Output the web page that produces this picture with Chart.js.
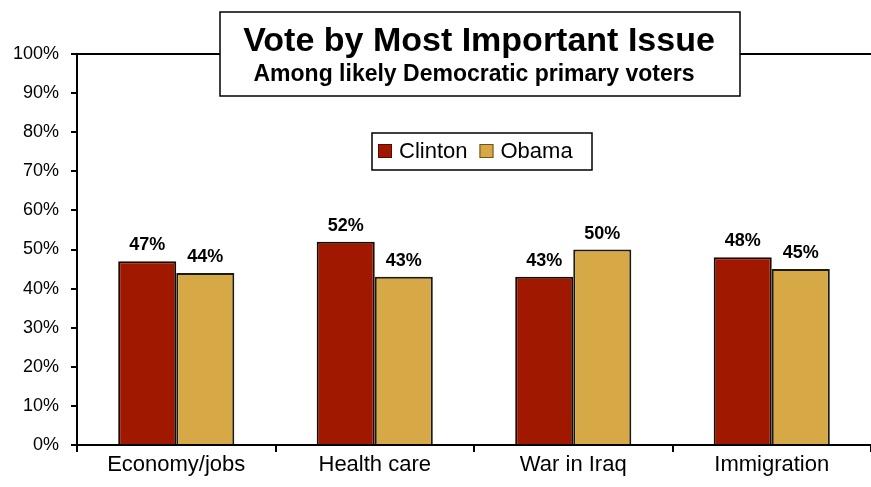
<!DOCTYPE html>
<html>
<head>
<meta charset="utf-8">
<script src="https://cdn.jsdelivr.net/npm/chart.js@4"></script>
<style>
  html, body { margin: 0; padding: 0; background: #fff; }
  #wrap { width: 871px; height: 487px; }
</style>
</head>
<body>
<div id="wrap"><canvas id="voteChart"></canvas></div>
<script>
  var issues = ["Economy/jobs", "Health care", "War in Iraq", "Immigration"];
  var clinton = [47, 52, 43, 48];
  var obama = [44, 43, 50, 45];
  var yTicks = [0, 10, 20, 30, 40, 50, 60, 70, 80, 90, 100];

  var titleText = "Vote by Most Important Issue";
  var subText = "Among likely Democratic primary voters";

  var FONT = "Arial, 'Liberation Sans', sans-serif";

  // boxes + value labels drawn on top
  var extras = {
    id: "extras",
    afterDatasetsDraw: function(chart) {
      var ctx = chart.ctx, a = chart.chartArea;
      ctx.save();
      // top border of plot
      ctx.strokeStyle = "#000";
      ctx.lineWidth = 2;
      ctx.beginPath();
      ctx.moveTo(a.left, a.top);
      ctx.lineTo(a.right, a.top);
      ctx.stroke();

      // value labels
      ctx.fillStyle = "#000";
      ctx.font = "bold 18px " + FONT;
      ctx.textAlign = "center";
      ctx.textBaseline = "alphabetic";
      chart.data.datasets.forEach(function(ds, i) {
        chart.getDatasetMeta(i).data.forEach(function(bar, j) {
          ctx.fillText(ds.data[j] + "%", bar.x, bar.y - 11);
        });
      });

      // title box
      ctx.fillStyle = "#fff";
      ctx.fillRect(220, 12, 520, 84);
      ctx.lineWidth = 1.5;
      ctx.strokeRect(220, 12, 520, 84);
      ctx.fillStyle = "#000";
      ctx.font = "bold 34px " + FONT;
      ctx.fillText(titleText, 479, 51);
      ctx.font = "bold 23px " + FONT;
      ctx.fillText(subText, 474, 81);

      // legend box
      ctx.fillStyle = "#fff";
      ctx.fillRect(372, 133, 220, 37);
      ctx.strokeStyle = "#000";
      ctx.lineWidth = 1.5;
      ctx.strokeRect(372, 133, 220, 37);
      ctx.font = "22px " + FONT;
      ctx.textAlign = "left";
      ctx.textBaseline = "middle";
      var lx = 378;
      chart.data.datasets.forEach(function(ds, i) {
        ctx.fillStyle = ds.backgroundColor;
        ctx.fillRect(lx, 144, 14, 14);
        ctx.lineWidth = 1;
        ctx.strokeStyle = i === 0 ? "#5a0a00" : "#6b5418";
        ctx.strokeRect(lx + 0.5, 144.5, 13, 13);
        ctx.fillStyle = "#000";
        ctx.fillText(ds.label, lx + 21, 152);
        lx += 21 + ctx.measureText(ds.label).width + 12;
      });
      ctx.restore();
    }
  };

  new Chart(document.getElementById("voteChart"), {
    type: "bar",
    data: {
      labels: issues,
      datasets: [{
        label: "Clinton",
        data: clinton,
        backgroundColor: "#A01800",
        borderColor: "#1a0a00",
        borderWidth: 2
      }, {
        label: "Obama",
        data: obama,
        backgroundColor: "#D6A846",
        borderColor: "#1a1a10",
        borderWidth: 2
      }]
    },
    options: {
      responsive: true,
      maintainAspectRatio: false,
      animation: false,
      layout: { padding: { top: 54, right: 0, left: 0, bottom: 0 } },
      plugins: { legend: { display: false }, title: { display: false }, tooltip: { enabled: false } },
      datasets: { bar: { categoryPercentage: 0.585, barPercentage: 1 } },
      scales: {
        x: {
          grid: { offset: true, drawOnChartArea: false, color: "#000", lineWidth: 2, tickLength: 7 },
          border: { color: "#000", width: 2 },
          ticks: { color: "#000", font: { size: 22, family: FONT }, padding: 0 },
          afterFit: function(s) { s.height = 42; }
        },
        y: {
          min: 0, max: 100,
          afterBuildTicks: function(s) { s.ticks = yTicks.map(function(v) { return { value: v }; }); },
          grid: { drawOnChartArea: false, color: "#000", lineWidth: 2, tickLength: 6 },
          border: { color: "#000", width: 2 },
          ticks: {
            color: "#000", padding: 12,
            font: { size: 18, family: FONT },
            callback: function(v) { return v + "%"; }
          },
          afterFit: function(s) { s.width = 77; }
        }
      }
    },
    plugins: [extras]
  });
</script>
</body>
</html>
